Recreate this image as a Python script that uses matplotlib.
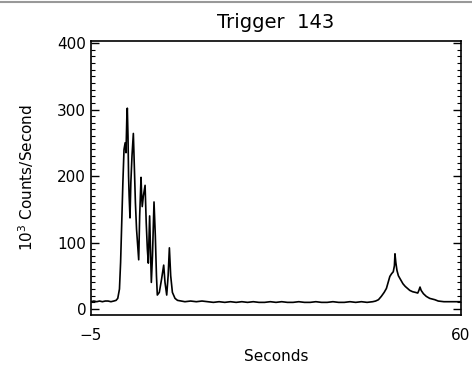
import matplotlib
matplotlib.use("Agg")
import matplotlib.pyplot as plt
from matplotlib.ticker import MultipleLocator
from matplotlib.lines import Line2D

title = "Trigger  143"
xlabel = "Seconds"
ylabel = "10$^3$ Counts/Second"
x_ticks = [-5, 60]
y_ticks = [0, 100, 200, 300, 400]

seconds = [-5.0, -4.5, -4.0, -3.5, -3.0, -2.5, -2.0, -1.5, -1.0, -0.6, -0.3, 0.0,
           0.2, 0.4, 0.6, 0.8, 1.0, 1.15, 1.3, 1.38, 1.5, 1.6, 1.7, 1.85, 2.0,
           2.2, 2.44, 2.6, 2.8, 3.0, 3.2, 3.38, 3.55, 3.79, 3.9, 4.0, 4.2, 4.5,
           4.7, 4.9, 5.07, 5.2, 5.3, 5.45, 5.6, 5.8, 6.07, 6.3, 6.5, 6.65, 7.0,
           7.4, 7.77, 8.0, 8.3, 8.55, 8.77, 9.0, 9.3, 9.76, 10.2, 10.8, 11.5,
           12.5, 13.5, 14.5, 15.5, 16.5, 17.5, 18.5, 19.5, 20.5, 21.5, 22.5,
           23.5, 24.5, 25.5, 26.5, 27.5, 28.5, 29.5, 30.5, 31.5, 32.5, 33.5,
           34.5, 35.5, 36.5, 37.5, 38.5, 39.5, 40.5, 41.5, 42.5, 43.5, 44.5,
           45.0, 45.5, 46.0, 46.5, 46.9, 47.2, 47.5, 47.8, 48.1, 48.3, 48.4,
           48.55, 48.75, 49.0, 49.4, 49.8, 50.2, 50.6, 51.0, 51.5, 52.0, 52.4,
           52.6, 52.8, 53.0, 53.4, 53.9, 54.5, 55.4, 56.0, 57.0, 58.0, 59.0, 60.0]
counts = [11, 12, 11, 12, 11, 12, 12, 11, 12, 13, 16, 30,
          70, 130, 190, 240, 250, 235, 290, 302, 260, 200, 170, 137, 190,
          230, 264, 220, 160, 120, 95, 74, 140, 198, 170, 154, 170, 186,
          130, 90, 69, 110, 140, 90, 40, 80, 161, 110, 50, 21, 25,
          45, 66, 40, 21, 50, 92, 50, 25, 16, 13, 12, 11,
          12, 11, 12, 11, 10, 11, 10, 11, 10, 11, 10,
          11, 10, 10, 11, 10, 11, 10, 10, 11, 10, 10,
          11, 10, 10, 11, 10, 10, 11, 10, 11, 10, 11,
          12, 14, 19, 25, 31, 40, 49, 53, 56, 65, 83,
          70, 58, 50, 44, 38, 34, 31, 28, 26, 25, 24,
          28, 33, 28, 23, 19, 16, 14, 12, 11, 11, 11, 11]

fig = plt.figure(figsize=(4.72, 3.67), dpi=100)
ax = fig.add_axes([91/472, 52/367, 370/472, 274/367])
ax.plot(seconds, counts, color="black", linewidth=1.2)

ax.set_xlim(-5, 60)
ax.set_ylim(-9, 403)
ax.set_xticks(x_ticks)
ax.set_xticklabels(["\u22125", "60"])
ax.set_yticks(y_ticks)
ax.yaxis.set_minor_locator(MultipleLocator(10))
ax.tick_params(axis="x", length=0, labelsize=11, pad=9)
ax.tick_params(axis="y", which="major", direction="in", length=6, width=1,
               right=True, labelsize=11)
ax.tick_params(axis="y", which="minor", direction="in", length=3, width=0.8,
               right=True)
for s in ax.spines.values():
    s.set_linewidth(1.2)

ax.set_title(title, fontsize=14, pad=9)
ax.set_xlabel(xlabel, fontsize=11, labelpad=5)
ax.set_ylabel(ylabel, fontsize=11, labelpad=15)

fig.add_artist(Line2D([0, 1], [1 - 2/367, 1 - 2/367], color="#999999",
                      linewidth=1.5, transform=fig.transFigure))

fig.savefig("out.png", dpi=100)
